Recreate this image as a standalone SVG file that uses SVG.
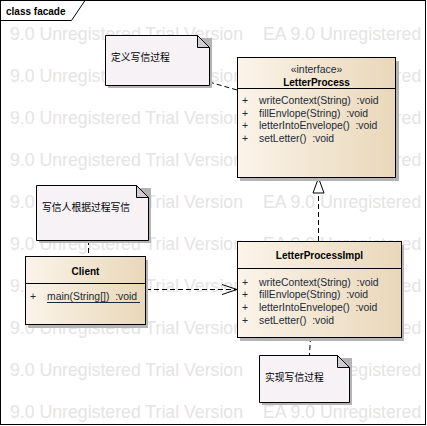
<svg xmlns="http://www.w3.org/2000/svg" width="427" height="426" viewBox="0 0 427 426">
<defs>
<linearGradient id="cls" x1="0" y1="0" x2="1" y2="0">
<stop offset="0" stop-color="#FBF4EA"/>
<stop offset="1" stop-color="#E9D7B9"/>
</linearGradient>
<marker id="open" markerWidth="18" markerHeight="12" refX="16" refY="6" orient="auto" markerUnits="userSpaceOnUse">
<path d="M1,1 L16,6 L1,11" fill="none" stroke="#000" stroke-width="1"/>
</marker>
</defs>
<style>
.wm{font-family:"Liberation Sans",Arial,sans-serif;font-size:17.7px;fill:#e4e4e4}
.box{fill:url(#cls);stroke:#000;stroke-width:1}
.shadow{fill:#b4b4b4}
.note{fill:#F6F2F6;stroke:#000;stroke-width:1}
.fold{fill:#d0cdd0;stroke:#000;stroke-width:1}
.t{font-family:"Liberation Sans",Arial,sans-serif;font-size:10.4px;fill:#1c2a36;white-space:pre}
.b{font-family:"Liberation Sans",Arial,sans-serif;font-size:10px;font-weight:bold;fill:#000}
.cjk{font-family:"Liberation Sans","Noto Sans CJK SC",sans-serif;font-size:9.8px;fill:#000}
.line{fill:none;stroke:#000;stroke-width:1}
.dash{fill:none;stroke:#000;stroke-width:1;stroke-dasharray:5,3}
</style>
<rect x="0" y="0" width="427" height="426" fill="#fff"/>
<g id="watermark">
<text class="wm" x="10" y="40">9.0 Unregistered Trial Version</text><text class="wm" x="263" y="40">EA 9.0 Unregistered</text>
<text class="wm" x="10" y="82">9.0 Unregistered Trial Version</text><text class="wm" x="263" y="82">EA 9.0 Unregistered</text>
<text class="wm" x="10" y="124">9.0 Unregistered Trial Version</text><text class="wm" x="263" y="124">EA 9.0 Unregistered</text>
<text class="wm" x="10" y="166">9.0 Unregistered Trial Version</text><text class="wm" x="263" y="166">EA 9.0 Unregistered</text>
<text class="wm" x="10" y="208">9.0 Unregistered Trial Version</text><text class="wm" x="263" y="208">EA 9.0 Unregistered</text>
<text class="wm" x="10" y="250">9.0 Unregistered Trial Version</text><text class="wm" x="263" y="250">EA 9.0 Unregistered</text>
<text class="wm" x="10" y="292">9.0 Unregistered Trial Version</text><text class="wm" x="263" y="292">EA 9.0 Unregistered</text>
<text class="wm" x="10" y="334">9.0 Unregistered Trial Version</text><text class="wm" x="263" y="334">EA 9.0 Unregistered</text>
<text class="wm" x="10" y="376">9.0 Unregistered Trial Version</text><text class="wm" x="263" y="376">EA 9.0 Unregistered</text>
<text class="wm" x="10" y="418">9.0 Unregistered Trial Version</text><text class="wm" x="263" y="418">EA 9.0 Unregistered</text>
</g>
<g id="frame">
<rect x="0.5" y="0.5" width="425" height="424" class="line"/>
<path d="M0.5,20.5 H71.5 L85,0.5" class="line"/>
<text class="b" x="6" y="15">class facade</text>
</g>
<g id="connectors">
<path d="M209,82 L237,90" class="dash"/>
<path d="M88.5,240 L88.5,257" class="dash"/>
<path d="M310.5,337 L309.5,355" class="dash"/>
<path d="M146,289.5 L237,289.5" class="dash" stroke-dasharray="6,3" marker-end="url(#open)"/>
<path d="M318.5,241 L318.5,193" class="dash"/>
<path d="M318.5,178 L324,193 L313,193 Z" fill="#fff" stroke="#000" stroke-width="1"/>
</g>
<g id="note-define">
<rect x="108" y="38" width="104" height="50" class="shadow"/>
<path d="M105.5,35.5 H197.5 L209.5,47.5 V85.5 H105.5 Z" class="note"/>
<path d="M197.5,35.5 V47.5 H209.5 Z" class="fold"/>
<text class="cjk" x="111" y="61">定义写信过程</text>
</g>
<g id="LetterProcess">
<rect x="240" y="61" width="159" height="120" class="shadow"/>
<rect x="237.5" y="57.5" width="158" height="120" class="box"/>
<line x1="237.5" y1="88.5" x2="395.5" y2="88.5" class="line"/>
<text class="t" x="316.5" y="73.3" text-anchor="middle">«interface»</text>
<text class="b" x="316.5" y="85.7" text-anchor="middle">LetterProcess</text>
<text class="t" x="245" y="104" text-anchor="middle">+</text><text class="t" x="259" y="104">writeContext(String)  :void</text>
<text class="t" x="245" y="116.6" text-anchor="middle">+</text><text class="t" x="259" y="116.6">fillEnvlope(String)  :void</text>
<text class="t" x="245" y="129.2" text-anchor="middle">+</text><text class="t" x="259" y="129.2">letterIntoEnvelope()  :void</text>
<text class="t" x="245" y="141.8" text-anchor="middle">+</text><text class="t" x="259" y="141.8">setLetter()  :void</text>
</g>
<g id="note-client">
<rect x="39" y="188" width="112" height="55" class="shadow"/>
<path d="M36.5,185.5 H136.5 L148.5,197.5 V240.5 H36.5 Z" class="note"/>
<path d="M136.5,185.5 V197.5 H148.5 Z" class="fold"/>
<text class="cjk" x="42" y="211">写信人根据过程写信</text>
</g>
<g id="Client">
<rect x="28" y="260" width="120" height="68" class="shadow"/>
<rect x="25.5" y="256.5" width="120" height="68" class="box"/>
<line x1="25.5" y1="283.5" x2="145.5" y2="283.5" class="line"/>
<text class="b" x="85.5" y="275" text-anchor="middle">Client</text>
<text class="t" x="33" y="300" text-anchor="middle">+</text>
<text class="t" x="47" y="300">main(String[])  :void</text>
<line x1="47" y1="302.5" x2="140" y2="302.5" stroke="#1c2a36" stroke-width="1"/>
</g>
<g id="LetterProcessImpl">
<rect x="240" y="245" width="164" height="96" class="shadow"/>
<rect x="237.5" y="241.5" width="164" height="96" class="box"/>
<line x1="237.5" y1="268.5" x2="401.5" y2="268.5" class="line"/>
<text class="b" x="319.5" y="259.3" text-anchor="middle">LetterProcessImpl</text>
<text class="t" x="245" y="285.7" text-anchor="middle">+</text><text class="t" x="259" y="285.7">writeContext(String)  :void</text>
<text class="t" x="245" y="298.3" text-anchor="middle">+</text><text class="t" x="259" y="298.3">fillEnvlope(String)  :void</text>
<text class="t" x="245" y="311" text-anchor="middle">+</text><text class="t" x="259" y="311">letterIntoEnvelope()  :void</text>
<text class="t" x="245" y="323.7" text-anchor="middle">+</text><text class="t" x="259" y="323.7">setLetter()  :void</text>
</g>
<g id="note-impl">
<rect x="262" y="358" width="90" height="47" class="shadow"/>
<path d="M259.5,355.5 H337.5 L349.5,367.5 V402.5 H259.5 Z" class="note"/>
<path d="M337.5,355.5 V367.5 H349.5 Z" class="fold"/>
<text class="cjk" x="265" y="381">实现写信过程</text>
</g>
</svg>
